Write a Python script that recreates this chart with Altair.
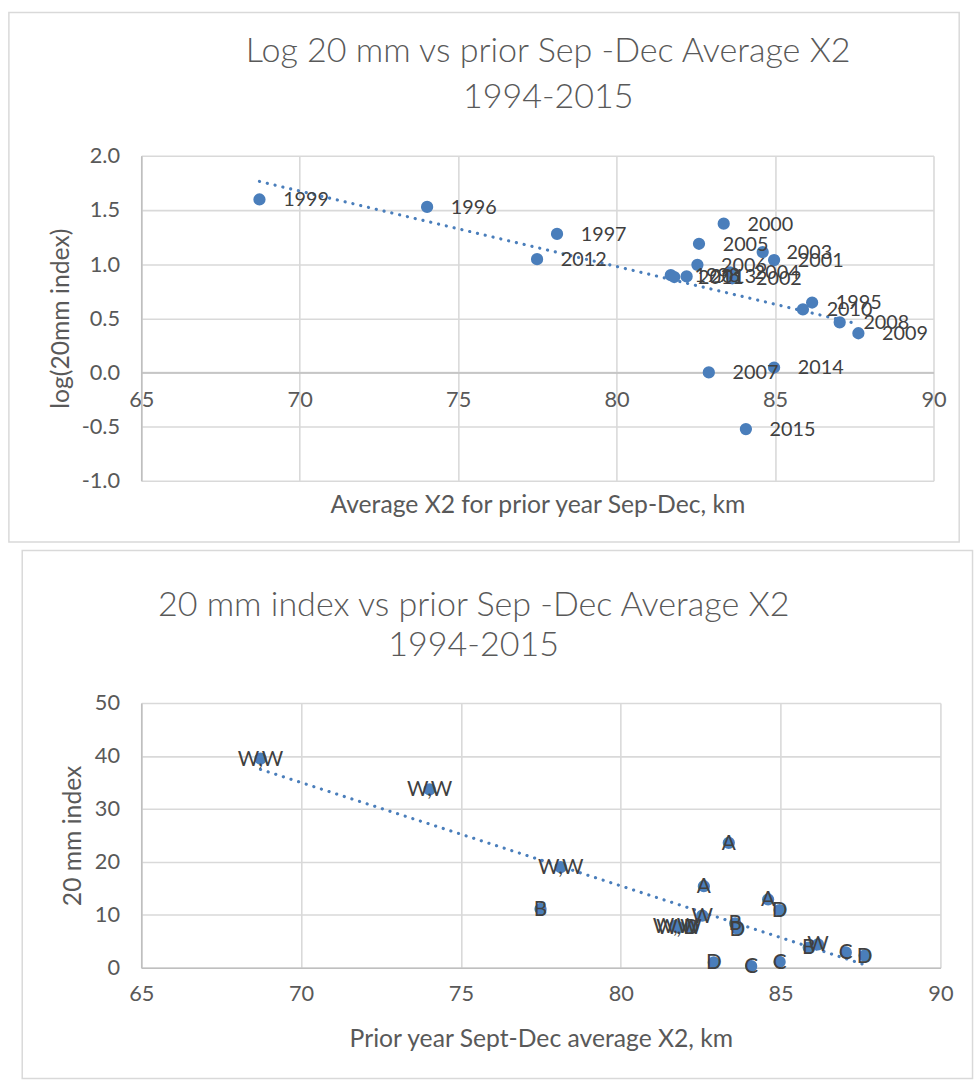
import altair as alt
import pandas as pd

# Delta smelt 20 mm survey index against prior-year Sep-Dec average X2
years = ["1995", "1996", "1997", "1998", "1999", "2000", "2001", "2002", "2003",
         "2004", "2005", "2006", "2007", "2008", "2009", "2010", "2011", "2012",
         "2013", "2014", "2015"]
x2_avg = [86.17, 74.02, 78.12, 81.71, 68.73, 83.38, 84.97, 83.65, 84.61,
          83.58, 82.60, 82.55, 82.91, 87.04, 87.63, 85.88, 81.82, 77.49,
          82.21, 84.97, 84.08]
index_20mm = [4.42, 33.7, 19.0, 7.9, 39.5, 23.6, 10.9, 7.4, 12.9,
              8.4, 15.4, 9.85, 1.0, 2.9, 2.3, 3.82, 7.6, 11.1,
              7.7, 1.11, 0.30]
wy_type = ["W", "W,W", "W,W", "W,W", "W,W", "A", "D", "D", "A",
           "B", "A", "W", "D", "C", "D", "B", "W,W", "B",
           "D", "C", "C"]

df = pd.DataFrame({"year": years, "x2": x2_avg, "idx": index_20mm, "wy": wy_type})
one = pd.DataFrame({"k": [0]})

BLUE = "#4a7ebb"
GRID = "#d9d9d9"
AXIS = "#bfbfbf"
TXT = "#595959"
LBL = "#404040"
FONT = "Lato"

W1, H1 = 802, 329
W2, H2 = 809, 268

x_ticks = [65, 70, 75, 80, 85, 90]
# hyphen-minus for negative tick labels
LOG_LABEL = ("datum.value < 0 ? '-' + format(-datum.value, '.1f') "
             ": format(datum.value, '.1f')")

# ---------- top panel: log10 of the index ----------
base1 = alt.Chart(df).transform_calculate(logidx="log(datum.idx)/LN10")

x1 = alt.X("x2:Q", scale=alt.Scale(domain=[65, 90], nice=False, zero=False),
           axis=alt.Axis(values=x_ticks, offset=-H1 / 3, ticks=False,
                         labelFlush=False, labelPadding=17,
                         domainColor=AXIS, domainWidth=1.6,
                         title="Average X2 for prior year Sep-Dec, km",
                         titleY=H1 / 3 + 24, titleBaseline="middle"))
y1 = alt.Y("logidx:Q", scale=alt.Scale(domain=[-1, 2], nice=False, zero=False),
           axis=alt.Axis(values=[-1, -0.5, 0, 0.5, 1, 1.5, 2], labelExpr=LOG_LABEL,
                         ticks=False, labelPadding=22, domainColor=AXIS,
                         domainWidth=1.6, title="log(20mm index)",
                         titleX=-82, titleY=H1 / 2, titleAngle=-90,
                         titleAlign="center", titleBaseline="middle"))

frame1 = alt.Chart(one).mark_rect(filled=False, stroke=GRID, strokeWidth=1.5).encode(
    x=alt.value(-134), x2=alt.value(828), y=alt.value(-145), y2=alt.value(391))
trend1 = base1.transform_regression("x2", "logidx").mark_line(
    color=BLUE, strokeWidth=3.2, strokeDash=[0.1, 8], strokeCap="round").encode(x=x1, y=y1)
pts1 = base1.mark_circle(size=154, opacity=1, color=BLUE).encode(x=x1, y=y1)
lab1 = base1.mark_text(align="left", baseline="middle", dx=24, dy=1, fontSize=20,
                       font=FONT, color=LBL).encode(x=x1, y=y1, text="year:N")

top = alt.layer(frame1, trend1, pts1, lab1).properties(
    width=W1, height=H1,
    title=alt.TitleParams(["Log 20 mm vs prior Sep -Dec Average X2", "1994-2015"],
                          fontSize=34.5, font=FONT, fontWeight=300, color=TXT,
                          lineHeight=47, frame="group", anchor="middle", dx=11,
                          offset=-105))

# ---------- bottom panel: the index itself ----------
base2 = alt.Chart(df)

x2e = alt.X("x2:Q", scale=alt.Scale(domain=[65, 90], nice=False, zero=False),
            axis=alt.Axis(values=x_ticks, ticks=False, labelFlush=False,
                          labelPadding=16, domainColor=AXIS, domainWidth=1.6,
                          title="Prior year Sept-Dec average X2, km",
                          titleY=72, titleBaseline="middle"))
y2e = alt.Y("idx:Q", scale=alt.Scale(domain=[0, 50], nice=False, zero=False),
            axis=alt.Axis(values=[0, 10, 20, 30, 40, 50], format="d",
                          ticks=False, labelPadding=22, domainColor=AXIS,
                          domainWidth=1.6, title="20 mm index",
                          titleX=-70, titleY=H2 / 2, titleAngle=-90,
                          titleAlign="center", titleBaseline="middle"))

frame2 = alt.Chart(one).mark_rect(filled=False, stroke=GRID, strokeWidth=1.5).encode(
    x=alt.value(-120.5), x2=alt.value(841.5), y=alt.value(-154.5), y2=alt.value(380))
trend2 = base2.transform_regression("x2", "idx").mark_line(
    color=BLUE, strokeWidth=3.2, strokeDash=[0.1, 8], strokeCap="round").encode(x=x2e, y=y2e)
pts2 = base2.mark_circle(size=154, opacity=1, color=BLUE).encode(x=x2e, y=y2e)
lab2 = base2.mark_text(align="center", baseline="middle", dy=1, fontSize=21,
                       font=FONT, color=LBL).encode(x=x2e, y=y2e, text="wy:N")

bottom = alt.layer(frame2, trend2, pts2, lab2).properties(
    width=W2, height=H2,
    title=alt.TitleParams(["20 mm index vs prior Sep -Dec Average X2", "1994-2015"],
                          fontSize=34.5, font=FONT, fontWeight=300, color=TXT,
                          lineHeight=41, frame="group", anchor="middle", dx=-68,
                          offset=-115.5))

chart = alt.concat(top, bottom, columns=1, spacing=6).properties(
    align="none",
    padding={"left": 8, "top": 5, "right": 0, "bottom": 0},
    background="white",
).configure_view(stroke=None).configure_axis(
    labelFont=FONT, labelFontSize=22, labelColor=TXT,
    titleFont=FONT, titleFontSize=25, titleFontWeight="normal", titleColor=TXT,
    gridColor=GRID, gridWidth=1.6,
)

chart.save("out.html", embed_options={"renderer": "svg", "actions": False})
